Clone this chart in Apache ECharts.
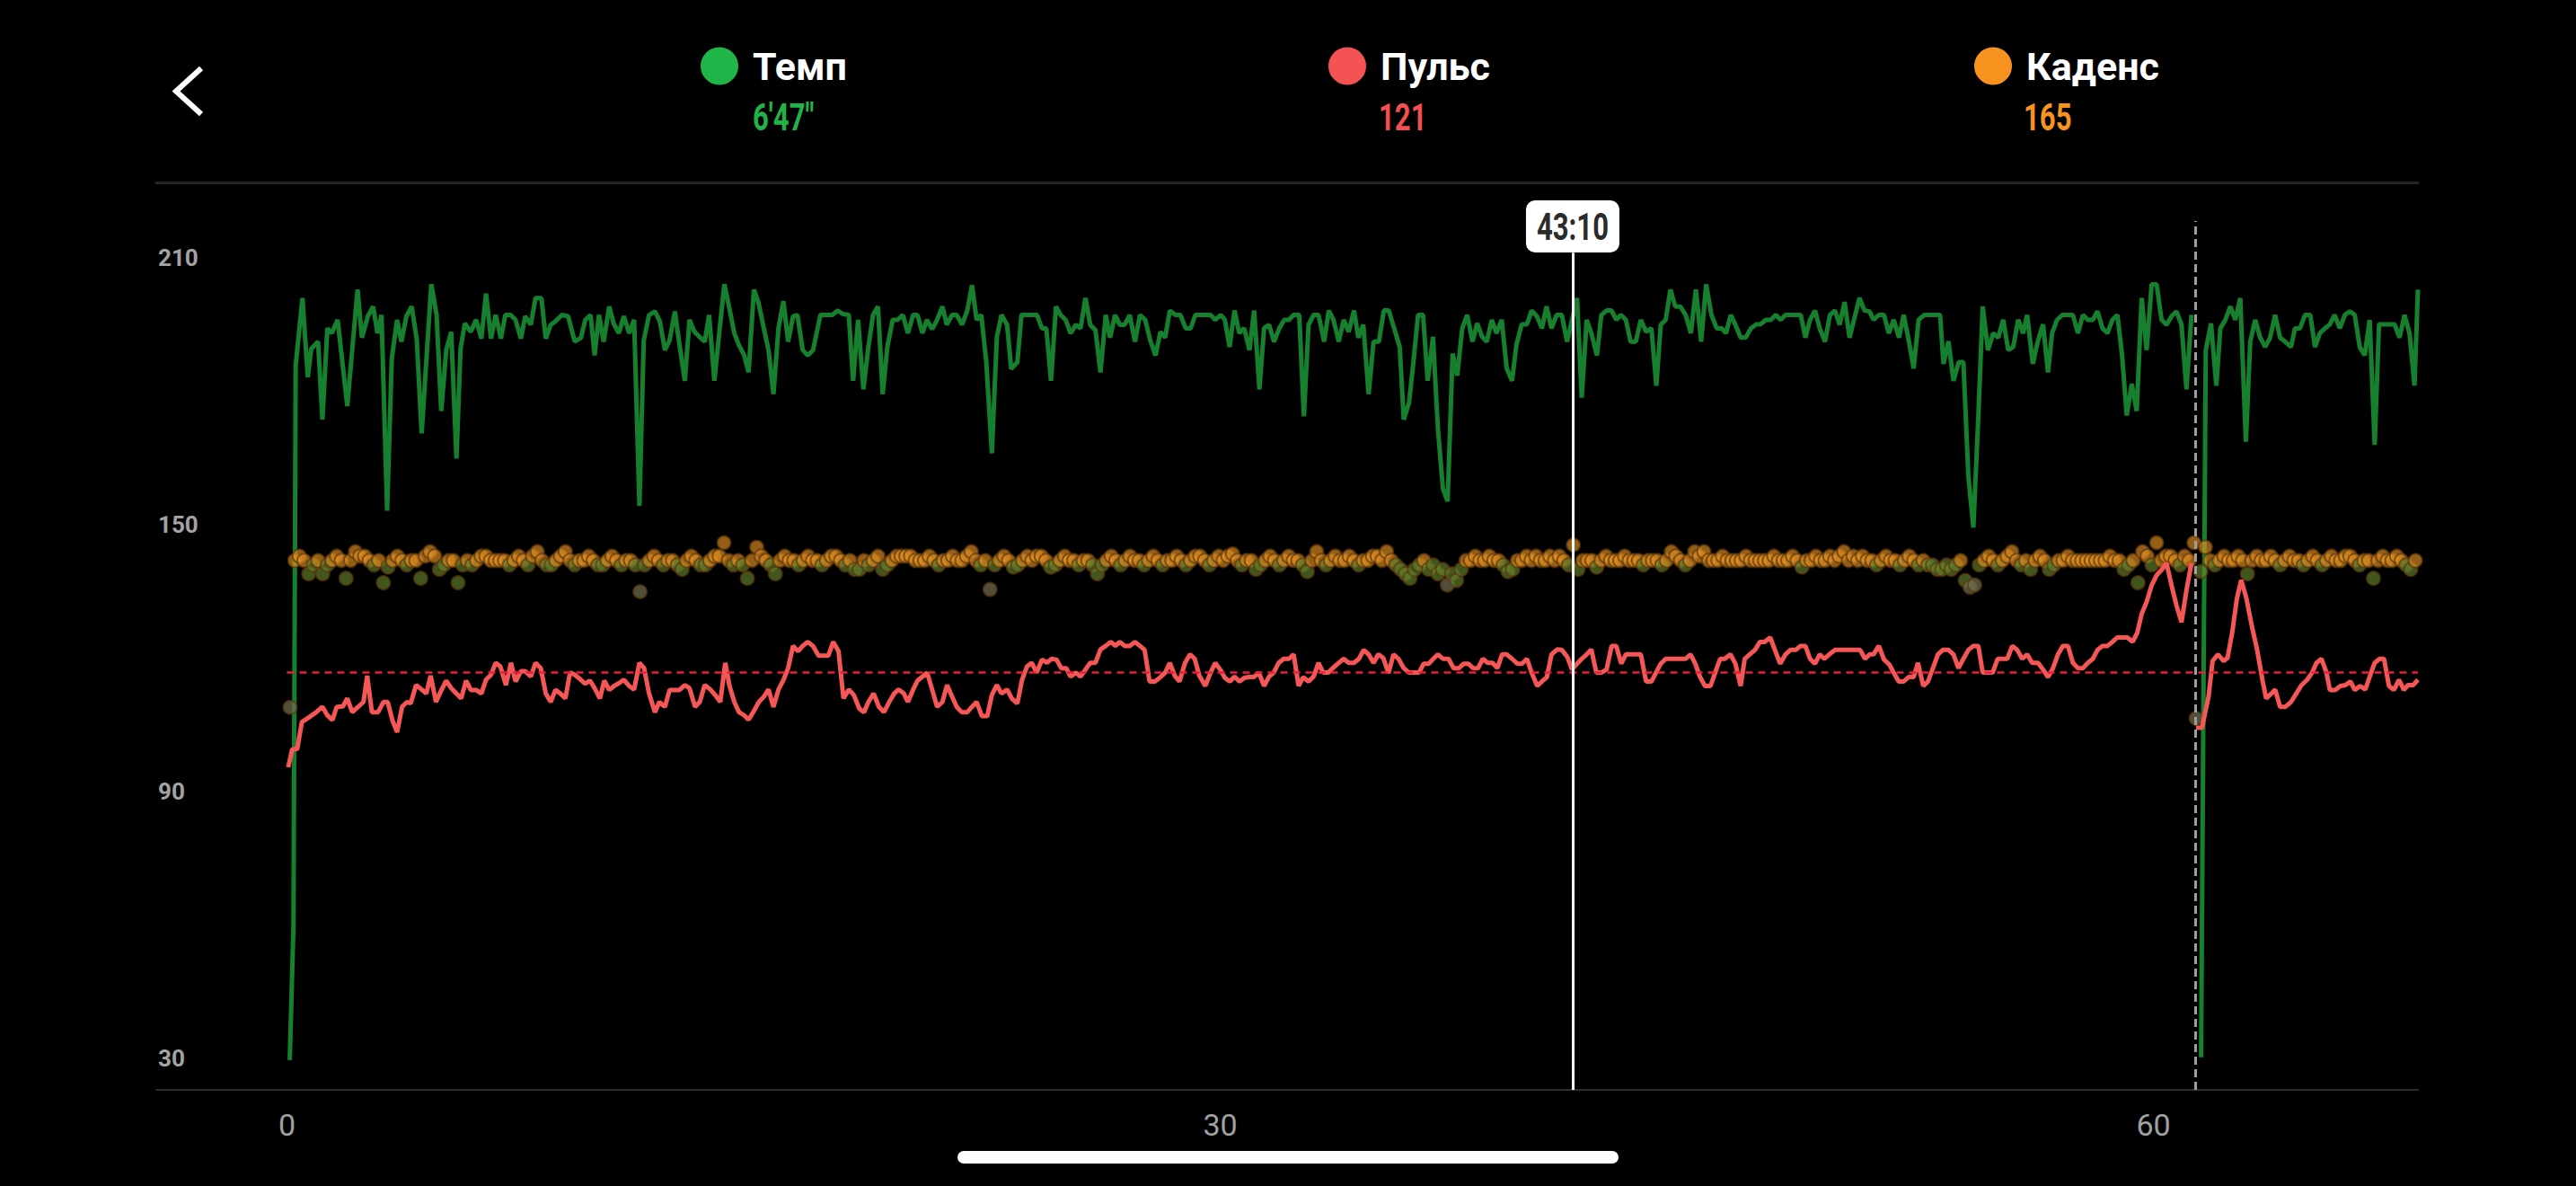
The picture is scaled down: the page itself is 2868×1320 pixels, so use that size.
<!DOCTYPE html>
<html><head><meta charset="utf-8">
<script src="https://cdn.jsdelivr.net/npm/echarts@6/dist/echarts.min.js"></script>
<style>html,body{margin:0;padding:0;background:#000;overflow:hidden}#c{width:2868px;height:1320px}</style>
</head><body><div id="c"></div>
<script>
const UI = "Roboto,'Noto Sans',sans-serif";

const seriesNames = ['Темп', 'Пульс', 'Каденс'];
const headerValues = ["6'47\"", '121', '165'];
const xTickLabels = [0, 30, 60];
const yTickLabels = [30, 90, 150, 210];
const cursorTime = 41.33;
const cursorLabel = '43:10';
const pauseTime = 61.35;
const avgPulse = 116.9;

const paceData = [[0.09,29.7],[0.21,60.0],[0.28,185.8],[0.50,201.0],[0.67,183.2],[0.78,189.6],[1.00,191.2],[1.14,173.7],[1.30,194.2],[1.44,193.1],[1.63,196.1],[1.94,176.7],[2.27,202.9],[2.41,192.1],[2.60,196.9],[2.77,199.1],[2.91,193.1],[3.04,197.2],[3.22,153.2],[3.37,187.4],[3.54,196.1],[3.68,191.2],[3.84,196.9],[4.01,199.1],[4.17,191.9],[4.33,170.6],[4.64,204.1],[4.81,197.2],[4.96,175.6],[5.12,189.3],[5.28,193.4],[5.45,164.9],[5.58,189.6],[5.72,195.3],[5.91,193.4],[6.08,196.1],[6.25,191.9],[6.40,202.0],[6.56,191.9],[6.71,197.2],[6.88,191.9],[7.02,197.2],[7.19,197.2],[7.35,196.1],[7.52,191.9],[7.66,196.9],[7.84,195.0],[7.99,201.0],[8.18,201.0],[8.32,191.9],[8.48,195.0],[8.62,195.7],[8.84,197.2],[9.04,196.9],[9.25,191.2],[9.45,192.1],[9.59,196.1],[9.76,197.2],[9.89,188.1],[10.03,197.2],[10.18,191.2],[10.36,199.1],[10.50,195.3],[10.67,193.1],[10.83,196.9],[11.00,193.1],[11.16,196.1],[11.33,154.3],[11.47,191.5],[11.64,197.2],[11.83,198.0],[11.99,195.7],[12.15,189.3],[12.30,191.5],[12.47,198.0],[12.62,190.4],[12.79,182.4],[12.94,196.1],[13.10,193.4],[13.26,192.3],[13.43,191.2],[13.57,197.2],[13.74,182.4],[13.90,193.4],[14.06,204.1],[14.20,199.5],[14.38,193.1],[14.53,190.4],[14.70,188.1],[14.84,184.3],[15.01,202.9],[15.16,199.9],[15.33,194.2],[15.48,189.3],[15.64,179.4],[15.80,194.2],[15.96,200.3],[16.11,191.2],[16.27,196.9],[16.41,197.2],[16.58,189.3],[16.74,188.1],[16.91,189.3],
[17.15,197.2],[17.37,197.2],[17.53,197.2],[17.70,198.2],[17.87,197.4],[18.06,197.2],[18.20,182.4],[18.36,196.1],[18.53,180.5],[18.69,190.0],[18.84,197.2],[19.00,199.1],[19.15,179.4],[19.30,190.0],[19.47,196.1],[19.63,196.1],[19.80,197.2],[19.96,193.1],[20.13,197.2],[20.27,197.2],[20.43,193.1],[20.57,196.1],[20.74,194.0],[20.90,196.1],[21.07,199.1],[21.21,195.0],[21.38,197.2],[21.53,197.2],[21.70,195.0],[21.87,198.2],[22.02,203.9],[22.17,196.1],[22.32,197.2],[22.48,186.6],[22.66,166.1],[22.82,192.3],[22.97,197.2],[23.15,195.0],[23.28,185.1],[23.48,186.6],[23.61,197.2],[23.78,197.2],[23.94,197.2],[24.11,197.2],[24.27,194.2],[24.41,194.2],[24.56,182.4],[24.72,199.1],[24.87,197.2],[25.03,196.1],[25.19,193.1],[25.36,195.0],[25.51,194.2],[25.67,201.0],[25.82,195.0],[25.99,193.8],[26.15,184.3],[26.32,197.2],[26.46,192.1],[26.62,197.2],[26.77,195.0],[26.93,195.0],[27.09,197.2],[27.26,191.2],[27.42,197.2],[27.59,196.1],[27.75,191.5],[27.92,188.1],[28.08,193.4],[28.23,192.1],[28.38,198.2],[28.56,197.2],[28.72,197.2],[28.89,194.2],[29.05,194.2],[29.20,197.2],[29.36,197.2],[29.52,197.2],[29.69,197.2],[29.84,196.1],[30.02,197.2],[30.15,196.1],[30.30,190.0],[30.46,198.2],[30.61,193.1],[30.77,194.2],[30.94,189.3],[31.09,198.2],[31.26,180.5],[31.41,194.2],[31.57,195.0],[31.73,191.2],[31.90,194.2],[32.06,196.1],[32.21,196.1],[32.36,197.2],[32.54,197.2],[32.69,174.4],[32.84,195.0],[33.00,197.2],[33.16,197.2],[33.34,191.2],[33.49,198.2],[33.64,196.1],[33.81,191.2],
[33.97,196.1],[34.13,193.4],[34.30,198.2],[34.44,192.1],[34.60,195.0],[34.77,179.4],[34.93,191.2],[35.10,191.2],[35.26,198.2],[35.42,198.2],[35.59,194.2],[35.77,190.0],[35.90,173.7],[36.07,177.5],[36.21,186.6],[36.36,197.2],[36.52,197.2],[36.67,182.4],[36.84,192.3],[37.00,171.4],[37.16,158.1],[37.31,155.3],[37.47,188.5],[37.62,183.6],[37.78,194.2],[37.94,197.2],[38.11,191.2],[38.26,195.3],[38.42,192.3],[38.57,191.2],[38.73,196.1],[38.88,193.1],[39.05,196.1],[39.21,185.2],[39.38,182.4],[39.52,190.4],[39.69,195.1],[39.86,195.1],[40.01,198.2],[40.18,196.9],[40.34,194.2],[40.49,199.1],[40.65,194.2],[40.81,197.2],[40.98,197.2],[41.15,191.2],[41.31,196.1],[41.47,201.0],[41.62,178.6],[41.78,196.1],[41.93,193.1],[42.11,188.1],[42.25,197.2],[42.42,198.2],[42.58,198.2],[42.73,196.1],[42.88,197.2],[43.04,196.1],[43.19,191.2],[43.36,191.2],[43.52,196.1],[43.69,193.4],[43.86,194.2],[44.02,181.3],[44.16,195.0],[44.32,196.1],[44.47,202.9],[44.63,199.1],[44.79,199.1],[44.96,197.2],[45.13,193.1],[45.29,202.9],[45.46,191.2],[45.62,204.1],[45.79,197.2],[45.96,194.2],[46.12,194.2],[46.26,193.1],[46.41,197.2],[46.56,195.0],[46.73,192.1],[46.89,192.1],[47.06,194.2],[47.23,195.1],[47.37,195.1],[47.54,196.1],[47.70,196.1],[47.86,197.2],[48.01,196.1],[48.17,197.2],[48.33,197.2],[48.50,197.2],[48.66,197.2],[48.81,192.1],[48.96,196.1],[49.12,198.2],[49.27,194.2],[49.44,191.2],[49.60,197.2],[49.76,198.2],[49.91,195.0],[50.07,200.1],[50.23,192.1],[50.40,196.9],[50.55,201.0],[50.71,198.2],[50.87,198.0],
[51.00,196.1],[51.17,197.2],[51.34,197.2],[51.49,193.1],[51.65,196.1],[51.82,192.1],[51.97,197.2],[52.14,191.2],[52.29,185.2],[52.45,196.1],[52.63,197.2],[52.79,197.2],[52.98,197.2],[53.14,197.2],[53.25,186.2],[53.41,191.3],[53.57,182.4],[53.74,186.6],[53.89,186.6],[54.05,160.8],[54.21,149.4],[54.37,174.4],[54.51,199.1],[54.68,189.3],[54.85,193.1],[55.01,192.1],[55.17,196.1],[55.33,189.3],[55.49,190.0],[55.65,196.1],[55.81,193.1],[55.94,197.2],[56.12,186.2],[56.28,191.2],[56.45,195.1],[56.61,184.3],[56.74,193.1],[56.90,196.1],[57.07,197.2],[57.25,197.2],[57.41,197.2],[57.57,193.1],[57.73,197.2],[57.89,196.1],[58.05,196.1],[58.20,198.0],[58.36,194.2],[58.52,193.1],[58.68,196.1],[58.84,197.2],[58.99,188.1],[59.14,174.6],[59.30,181.7],[59.46,175.6],[59.62,201.0],[59.78,189.3],[59.94,204.1],[60.10,204.1],[60.26,196.1],[60.42,195.0],[60.58,196.9],[60.74,198.0],[60.90,195.0],[61.06,180.5],[61.22,197.2],[61.30,'-'],[61.53,30.3],[61.68,189.3],[61.85,195.3],[62.02,181.3],[62.15,194.2],[62.31,196.1],[62.47,199.1],[62.63,196.1],[62.79,201.0],[62.97,168.7],[63.11,191.2],[63.27,196.1],[63.43,192.1],[63.59,190.0],[63.75,192.1],[63.91,197.2],[64.07,192.1],[64.23,191.2],[64.42,190.0],[64.55,194.2],[64.71,194.2],[64.87,197.2],[65.04,197.2],[65.19,190.0],[65.35,193.1],[65.51,194.2],[65.67,195.1],[65.82,197.2],[65.99,194.2],[66.15,197.2],[66.31,198.0],[66.47,197.2],[66.63,190.0],[66.79,188.1],[66.95,196.1],[67.11,168.0],[67.25,195.1],[67.41,195.1],[67.59,195.1],[67.75,195.1],[67.91,192.1],[68.07,197.2],[68.23,193.1],[68.39,181.3],[68.50,202.9]];

const pulseData = [[0.04,95.5],[0.17,99.6],[0.33,99.6],[0.48,105.7],[0.72,106.8],[0.94,107.9],[1.14,109.1],[1.30,107.2],[1.46,106.1],[1.60,109.1],[1.80,109.2],[1.94,111.0],[2.10,107.9],[2.29,109.1],[2.46,110.2],[2.58,116.1],[2.73,107.9],[2.93,107.9],[3.10,110.2],[3.24,110.2],[3.39,106.1],[3.54,103.4],[3.70,109.1],[3.86,110.2],[3.98,109.9],[4.15,114.0],[4.33,113.0],[4.48,112.1],[4.62,116.1],[4.79,110.2],[4.94,112.5],[5.12,115.0],[5.28,113.3],[5.45,112.1],[5.60,111.0],[5.76,115.0],[5.91,112.9],[6.08,112.9],[6.25,112.1],[6.40,115.2],[6.56,116.3],[6.71,119.0],[6.86,118.2],[7.04,114.0],[7.20,119.0],[7.35,114.8],[7.52,117.1],[7.66,117.1],[7.84,115.9],[7.99,119.0],[8.16,117.8],[8.32,112.1],[8.48,110.2],[8.63,112.9],[8.79,112.1],[8.95,111.0],[9.10,116.8],[9.25,116.3],[9.43,115.3],[9.58,114.3],[9.74,115.0],[9.89,113.3],[10.06,111.0],[10.20,115.0],[10.36,112.9],[10.52,113.8],[10.67,114.4],[10.83,115.2],[11.00,113.8],[11.16,113.0],[11.33,119.0],[11.48,117.8],[11.64,112.1],[11.83,107.9],[11.97,110.2],[12.15,109.1],[12.30,112.9],[12.47,112.9],[12.62,112.9],[12.79,114.0],[12.94,113.3],[13.12,109.1],[13.27,110.2],[13.43,114.0],[13.61,113.0],[13.76,111.8],[13.93,110.2],[14.09,119.0],[14.22,114.0],[14.38,110.2],[14.53,107.9],[14.70,107.2],[14.84,106.2],[15.02,108.3],[15.17,110.2],[15.33,111.4],[15.48,113.0],[15.64,109.1],[15.80,113.0],[15.97,115.3],[16.11,117.8],[16.27,122.8],[16.43,121.6],[16.58,122.8],[16.74,123.7],[16.91,122.8],
[17.09,120.6],[17.26,120.6],[17.40,120.6],[17.56,123.7],[17.73,121.6],[17.89,111.0],[18.06,113.0],[18.22,111.8],[18.40,108.7],[18.55,107.9],[18.69,110.2],[18.86,112.1],[19.03,109.1],[19.19,107.9],[19.36,110.2],[19.52,112.1],[19.66,113.0],[19.83,112.1],[19.96,110.2],[20.13,113.0],[20.27,115.0],[20.43,115.9],[20.58,116.8],[20.76,112.5],[20.90,109.1],[21.07,110.2],[21.22,114.0],[21.38,111.4],[21.53,109.1],[21.69,107.9],[21.87,107.9],[22.02,109.1],[22.17,110.2],[22.34,107.0],[22.51,107.0],[22.66,111.8],[22.82,114.0],[22.97,112.1],[23.15,113.0],[23.30,111.0],[23.48,109.9],[23.63,115.2],[23.79,118.2],[23.94,119.0],[24.10,116.8],[24.27,119.7],[24.43,119.0],[24.58,119.9],[24.74,119.7],[24.89,117.8],[25.05,117.8],[25.19,115.9],[25.36,116.8],[25.51,115.9],[25.67,117.5],[25.82,119.0],[25.99,119.0],[26.15,122.0],[26.32,122.8],[26.48,123.7],[26.63,122.8],[26.77,123.7],[26.93,122.8],[27.09,122.8],[27.26,123.7],[27.42,122.8],[27.57,121.9],[27.73,114.8],[27.90,114.8],[28.05,115.6],[28.23,116.8],[28.38,119.0],[28.54,116.1],[28.69,114.8],[28.87,119.0],[29.03,120.9],[29.18,119.9],[29.33,116.1],[29.52,113.8],[29.69,116.8],[29.84,119.0],[30.00,117.5],[30.15,115.6],[30.31,114.8],[30.46,115.9],[30.62,114.8],[30.77,115.6],[30.93,115.8],[31.08,115.8],[31.24,116.8],[31.41,113.8],[31.57,115.9],[31.72,116.8],[31.88,119.0],[32.04,119.9],[32.21,119.9],[32.36,120.9],[32.52,113.8],[32.67,115.8],[32.84,114.8],[33.00,115.9],[33.16,119.0],[33.31,116.8],[33.47,116.8],[33.62,117.8],[33.78,118.8],
[33.97,119.9],[34.13,119.0],[34.30,119.0],[34.46,119.9],[34.61,121.9],[34.77,120.9],[34.93,119.0],[35.08,120.9],[35.24,120.1],[35.41,116.7],[35.57,120.9],[35.73,119.9],[35.90,117.8],[36.07,116.8],[36.23,116.8],[36.39,116.8],[36.54,118.8],[36.70,118.8],[36.85,119.9],[37.00,120.9],[37.16,119.9],[37.34,119.9],[37.50,117.8],[37.67,117.8],[37.83,118.8],[37.98,118.8],[38.13,117.8],[38.29,117.8],[38.44,119.9],[38.60,119.0],[38.75,119.0],[38.91,117.8],[39.06,120.9],[39.21,120.9],[39.38,119.9],[39.55,118.8],[39.70,118.8],[39.86,119.9],[40.01,116.8],[40.19,113.8],[40.34,114.8],[40.50,115.8],[40.65,120.9],[40.83,122.0],[40.98,121.9],[41.16,120.3],[41.31,117.5],[41.47,118.8],[41.62,119.9],[41.78,120.9],[41.93,122.0],[42.09,116.8],[42.25,116.8],[42.42,117.5],[42.58,122.8],[42.73,122.8],[42.89,118.8],[43.04,120.9],[43.19,120.9],[43.36,120.9],[43.52,120.9],[43.69,114.8],[43.86,114.8],[44.01,116.8],[44.16,118.8],[44.32,119.9],[44.47,119.9],[44.63,119.9],[44.79,119.9],[44.96,119.9],[45.12,120.9],[45.27,118.8],[45.42,115.9],[45.58,113.8],[45.76,113.8],[45.91,116.8],[46.07,119.9],[46.22,119.9],[46.40,120.9],[46.56,118.8],[46.73,113.8],[46.86,119.9],[47.02,120.9],[47.19,121.9],[47.35,123.7],[47.50,123.7],[47.68,124.7],[47.83,121.9],[48.00,118.8],[48.17,120.9],[48.33,121.9],[48.50,121.9],[48.65,122.8],[48.81,122.8],[48.96,119.9],[49.12,118.8],[49.27,120.9],[49.42,119.9],[49.58,120.9],[49.76,121.9],[49.93,121.9],[50.09,121.9],[50.24,121.9],[50.40,121.9],[50.57,121.9],[50.73,119.9],[50.88,120.9],
[51.00,120.9],[51.17,122.8],[51.34,119.7],[51.51,118.6],[51.65,116.8],[51.81,114.8],[51.97,114.8],[52.13,115.8],[52.29,115.8],[52.43,119.0],[52.60,113.8],[52.75,114.8],[52.91,117.8],[53.07,120.9],[53.23,121.9],[53.41,121.9],[53.57,120.9],[53.73,117.8],[53.89,119.9],[54.05,121.9],[54.21,122.8],[54.37,122.8],[54.51,116.8],[54.67,116.8],[54.83,116.8],[54.99,119.9],[55.15,119.9],[55.30,119.9],[55.46,122.8],[55.62,121.9],[55.78,119.9],[55.94,120.9],[56.10,119.0],[56.29,119.0],[56.45,117.5],[56.61,115.8],[56.77,117.8],[56.93,120.9],[57.09,122.8],[57.25,122.8],[57.41,119.0],[57.57,117.8],[57.73,117.8],[57.89,119.0],[58.05,119.9],[58.20,121.9],[58.36,122.8],[58.52,122.8],[58.68,123.7],[58.84,124.7],[59.00,124.7],[59.16,124.7],[59.33,123.7],[59.48,125.8],[59.62,130.0],[59.78,132.7],[59.94,136.4],[60.10,138.7],[60.26,139.9],[60.42,141.4],[60.58,136.4],[60.74,131.9],[60.90,128.1],[61.06,135.3],[61.22,141.4],[61.30,'-'],[61.37,104.4],[61.56,104.4],[61.77,111.4],[61.90,119.4],[62.07,120.9],[62.25,119.4],[62.38,120.1],[62.53,125.8],[62.68,133.4],[62.82,137.6],[62.99,133.4],[63.16,127.3],[63.33,122.0],[63.50,115.2],[63.62,111.0],[63.79,112.1],[63.91,113.0],[64.07,109.1],[64.24,109.1],[64.42,110.2],[64.59,112.1],[64.76,114.0],[64.94,115.2],[65.10,116.8],[65.24,119.0],[65.40,119.9],[65.56,116.8],[65.67,112.9],[65.84,112.9],[66.01,113.8],[66.17,114.0],[66.33,114.8],[66.47,112.9],[66.64,113.8],[66.81,113.0],[66.95,115.9],[67.11,119.0],[67.27,119.9],[67.41,119.9],[67.57,113.8],[67.73,112.9],[67.89,115.2],[68.05,112.9],[68.18,114.0],[68.35,114.0],[68.50,115.2]];

// cadence samples: first segment starts at CAD_T0, second (after pause) at CAD_T1; one sample every CAD_STEP minutes
const CAD_T0 = 0.1, CAD_T1 = 61.37, CAD_STEP = 0.15;
const cadenceA = [
109,142,143,142,139,141,142,139,141,142,143,142,138,142,144,143,143,142,141,142,
137,140.5,142,143,142,141,142,142,138,143,144,143,140,141,142,142,137,141,142,141,
142,143,143,142,142,142,142,141,142,143,142,141,143,144,142,141,141,142,143,144,
142,141,142,142,143,142,141,141,142,143,142,141,142,142,141,135,141,142,143,142,
141,142,142,141,140,142,143,142,141,141,142,143,143,146,142,141,142,141,138,142,
145,143,142,141,139,142,143,142,142,141,142,143,142,142,141,142,143,143,142,141,
142,140,140,142,141,142,143,140,141,142,143,143,143,143,142,142,142,143,142,141,
142,142,143,142,142,143,144,142,141,142,135.5,141,142,143,142,140.5,141,142,143,142,
143,143,142,140.5,141,142,143,142,142,141,142,142,141,139,141,142,143,142,141,142,
143,142,142,141,142,143,142,141,142,142,143,142,141,142,143,143,142,141,142,143,
142,143,143.5,142,141,142,142,140,141,142,143,142,141,142,143,142,142,141,139.5,142,
144,142,141,142,143,142,142,143,142,141,142,142,143,143,142,144,142,141,140,139,
138,140,141,142,140,141,139,140,136.5,139,137.5,140,142,142,143,142,142,143,142,142,
141,139.5,140,142,142,143,142,143,142,142,143,142,143,142,141,145.5,140,142,142,142,
140.5,142,143,142,142,142,143,142,142,142,141,142,142,142,141,142,144,143,142,141,
142,144,143,144,142,142,142,143,142,142,142,142,143,142,142,142,142,142,143,142,
142,142,143,142,140.5,142,142,143,142,142,143,142,143,144,142,143,142,143,142,142,
141,142,143,142,142,141,142,143,142,141,142,141,141,140,140,141,140,141,142,137.5,
136,136.5,141,142,143,142,141,142,143,144,142,141,142,140,142,143,142,140,141,142,
142,143,142,142,142,142,142,142,142,142,143,142,142,140,141,142,137,144,143,141,
146,142,143,143,142,141,143,142,146];
const cadenceB = [
106.5,139.5,145,142,141,142,143,142,142,143,142,139,142,143,142,142,143,142,141,142,
143,142,142,141,142,143,142,141,142,143,142,142,143,143,142,141,142,142,138,142,
143,142,142,143,142,141,140,142];

const headerDotColors = ['#20b548', '#f35353', '#f7931e'];
const headerValueColors = ['#22b24a', '#f24f4f', '#f7931e'];
const legendLeft = [780, 1479, 2198];
const valueLeft = [838, 1535, 2253];

// colour bands of the cadence dots (low / mid / normal)
function cadenceColor(v) {
  if (v < 137) return 'rgba(112,110,80,0.9)';
  if (v < 141.8) return 'rgba(100,132,44,0.82)';
  return 'rgba(226,144,34,0.82)';
}
const cadencePoints = cadenceA.map((v, i) => [+(CAD_T0 + i * CAD_STEP).toFixed(2), v])
  .concat(cadenceB.map((v, i) => [+(CAD_T1 + i * CAD_STEP).toFixed(2), v]))
  .map(p => ({value: p, itemStyle: {color: cadenceColor(p[1])}}));

const chart = echarts.init(document.getElementById('c'), null, {renderer: 'svg'});

chart.setOption({
  backgroundColor: '#000000',
  animation: false,
  textStyle: {fontFamily: UI},
  legend: seriesNames.map((n, i) => ({
    data: [{name: n, itemStyle: {color: headerDotColors[i], borderWidth: 0, opacity: 1}}],
    left: legendLeft[i], top: 52, padding: 0, icon: 'circle', itemWidth: 42, itemHeight: 42,
    selectedMode: false, itemStyle: {borderWidth: 0},
    textStyle: {color: '#ffffff', fontSize: 43, fontWeight: 'bold', fontFamily: UI, padding: [0, 0, 0, 11]}
  })),
  grid: {left: 174, right: 176, top: 203, bottom: 107, containLabel: false, outerBoundsMode: 'none'},
  xAxis: [{
    type: 'value', min: -4.2, max: 68.5, interval: 0.3,
    axisLine: {show: true, lineStyle: {color: '#2e2e2e', width: 2}},
    axisTick: {show: false}, splitLine: {show: false},
    axisLabel: {
      color: '#a0a0a0', fontSize: 34, fontFamily: UI, margin: 22, hideOverlap: false,
      formatter: v => { const r = Math.round(v * 10) / 10; return xTickLabels.includes(r) ? String(Math.abs(r)) : ''; }
    }
  }, {
    type: 'value', position: 'top', min: -4.2, max: 68.5,
    axisLine: {show: true, lineStyle: {color: '#262626', width: 3}},
    axisTick: {show: false}, splitLine: {show: false}, axisLabel: {show: false}
  }],
  yAxis: {
    type: 'value', min: 23, max: 227, interval: 1,
    axisLine: {show: false}, axisTick: {show: false}, splitLine: {show: false},
    axisLabel: {
      inside: true, margin: 2, color: '#a3a3a3', fontSize: 26, fontWeight: 'bold', fontFamily: UI,
      formatter: v => yTickLabels.includes(v) ? String(v) : ''
    }
  },
  series: [
    {
      name: seriesNames[0], type: 'line', data: paceData, showSymbol: false, symbol: 'none',
      connectNulls: false, z: 2,
      lineStyle: {color: '#17802f', width: 5}, itemStyle: {color: '#17802f'}
    },
    {
      name: seriesNames[2], type: 'scatter', data: cadencePoints, symbolSize: 15, z: 3,
      itemStyle: {borderColor: 'rgba(92,55,14,0.85)', borderWidth: 2}
    },
    {
      name: seriesNames[1], type: 'line', data: pulseData, showSymbol: false, symbol: 'none',
      connectNulls: false, z: 4,
      lineStyle: {color: '#f55656', width: 5}, itemStyle: {color: '#f55656'}
    },
    {
      name: 'markers', type: 'line', data: [], z: 6, silent: true,
      markLine: {
        silent: true, symbol: ['none', 'none'], animation: false, label: {show: false},
        data: [
          [{coord: [0, avgPulse], lineStyle: {color: '#e4203c', width: 2.5, type: [8, 6]}},
           {coord: [68.5, avgPulse]}],
          [{coord: [pauseTime, 23], lineStyle: {color: '#9e9e9e', width: 3, type: [9, 5]}},
           {coord: [pauseTime, 218.3]}],
          [{coord: [cursorTime, 23], lineStyle: {color: '#ffffff', width: 3, type: 'solid'}},
           {coord: [cursorTime, 211.2]}]
        ]
      }
    }
  ]
});

// header values, cursor badge and phone chrome (condensed look via horizontal scale)
const cursorX = chart.convertToPixel({xAxisIndex: 0}, cursorTime);
const graphics = [
  {type: 'polyline', shape: {points: [[224, 76], [196, 101.5], [224, 127]]},
   style: {stroke: '#ffffff', lineWidth: 6, fill: null, lineJoin: 'miter', lineCap: 'butt'}},
  {type: 'rect', shape: {x: 1066, y: 1281, width: 736, height: 14, r: 7}, style: {fill: '#ffffff'}},
  {type: 'rect', shape: {x: cursorX - 52, y: 223, width: 104, height: 58, r: 10}, style: {fill: '#ffffff'}, z: 100},
  {type: 'text', x: cursorX, y: 253, scaleX: 0.74, z: 101,
   style: {text: cursorLabel, fill: '#2b2b2b', fontSize: 42, fontWeight: 'bold', fontFamily: 'Roboto',
           align: 'center', verticalAlign: 'middle'}}
];
headerValues.forEach((t, i) => graphics.push({
  type: 'text', x: valueLeft[i], y: 131, scaleX: 0.74,
  style: {text: t, fill: headerValueColors[i], fontSize: 42, fontWeight: 'bold', fontFamily: 'Roboto',
          align: 'left', verticalAlign: 'middle'}
}));
chart.setOption({graphic: graphics});
</script>
</body></html>
